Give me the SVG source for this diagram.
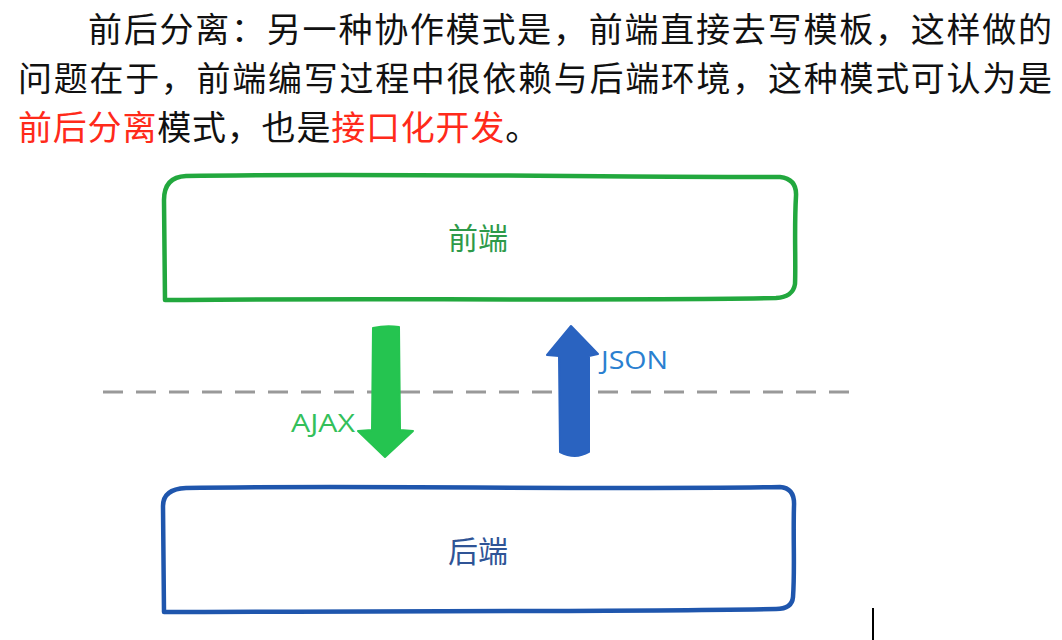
<svg xmlns="http://www.w3.org/2000/svg" width="1062" height="640" viewBox="0 0 1062 640">
<style>
.para{font-family:"Noto Sans CJK SC","Noto Sans",sans-serif;font-size:34px;fill:#111}
.red{fill:#ff2a1a}
.lbl{font-family:"Noto Sans CJK SC",sans-serif;font-size:30px;text-anchor:middle}
.tag{font-family:"Open Sans","Noto Sans",sans-serif;font-size:25px}
.box{fill:none;stroke-width:4.5;stroke-linejoin:round;stroke-linecap:round}
</style>
<rect width="1062" height="640" fill="#fff"/>
<g id="paragraph">
<text class="para" x="88" y="42" textLength="964" lengthAdjust="spacing">前后分离：另一种协作模式是，前端直接去写模板，这样做的</text>
<text class="para" x="18" y="91" textLength="1034" lengthAdjust="spacing">问题在于，前端编写过程中很依赖与后端环境，这种模式可认为是</text>
<text class="para" x="18" y="140" letter-spacing="0.8"><tspan class="red">前后分离</tspan>模式，也是<tspan class="red">接口化开发</tspan>。</text>
</g>
<g id="frontend">
<path class="box" stroke="#22a83e" d="M165,300 L164,200 Q164,177 186,176 C350,173 600,177 780,177 Q797,179 796,196 C794,230 796,262 795,284 Q793,297 776,298 C600,301 350,298 165,300 Z"/>
<text class="lbl" x="478" y="249" fill="#2e9a4a">前端</text>
</g>
<g id="backend">
<path class="box" stroke="#1f56ad" d="M164,612 L163,506 Q163,489 186,488 C350,485 600,490 780,487 Q795,488 794,506 C793,540 795,570 793,597 Q792,609 776,609 C600,612 350,611 164,612 Z"/>
<text class="lbl" x="478" y="562" fill="#2f5496">后端</text>
</g>
<g id="connectors">
<line x1="103" y1="392" x2="855" y2="392" stroke="#999" stroke-width="3" stroke-dasharray="20 13"/>
<path d="M373,328 Q386,325 399,327 L400,430 L413,431 L385,457 L358,431 L372,430 Z" fill="#25c450" stroke="#25c450" stroke-width="2" stroke-linejoin="round"/>
<path d="M571,326 L598,354 L589,356 L589,452 Q575,460 560,452 L559,356 L547,355 Z" fill="#2a63c0" stroke="#2a63c0" stroke-width="2" stroke-linejoin="round"/>
<text class="tag" x="291" y="432" fill="#33c05a" textLength="64" lengthAdjust="spacingAndGlyphs">AJAX</text>
<text class="tag" x="601" y="369" fill="#2a80d0" textLength="67" lengthAdjust="spacingAndGlyphs">JSON</text>
</g>
<line x1="873" y1="608" x2="873" y2="640" stroke="#000" stroke-width="2"/>
</svg>
